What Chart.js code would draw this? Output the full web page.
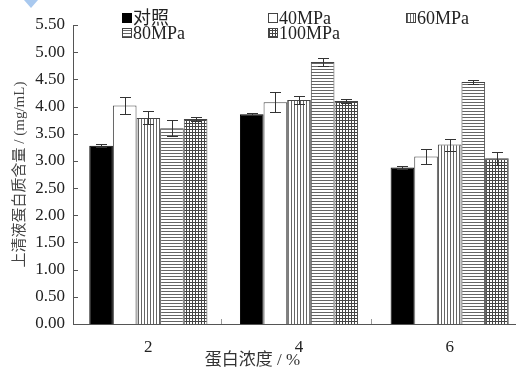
<!DOCTYPE html>
<html>
<head>
<meta charset="utf-8">
<script src="https://cdn.jsdelivr.net/npm/chart.js@4.4.1/dist/chart.umd.min.js"></script>
<style>
  html, body { margin: 0; padding: 0; background: #fff; overflow: hidden; }
  #wrap { position: relative; width: 516px; height: 369px; overflow: hidden; }
  canvas { position: absolute; left: 0; top: 0; }
  .corner { position: absolute; left: 24px; top: 0; width: 0; height: 0;
    border-left: 7px solid transparent; border-right: 7px solid transparent; border-top: 8px solid #a9c9ef; }
  .legend { position: absolute; font: 18px/16px "Liberation Serif", "Noto Sans CJK SC", serif; color: #222;
    display: flex; align-items: center; white-space: nowrap; height: 16px; }
  .sw { width: 10px; height: 10px; box-sizing: border-box; border: 1px solid #444; margin-right: 1px; }
  #xtitle { position: absolute; left: 152px; width: 201px; top: 350px; height: 20px; line-height: 20px;
    text-align: center; font-size: 17px; font-family: "Liberation Serif", "Noto Sans CJK SC", serif; color: #333; }
</style>
</head>
<body>
<div id="wrap">
  <canvas id="c" width="530" height="369"></canvas>
  <div class="corner"></div>
  <div id="legend"></div>
  <div id="xtitle">蛋白浓度 / %</div>
</div>
<script>
// ---- data ----
const categories = ['2', '4', '6'];
const seriesNames = ['对照', '40MPa', '60MPa', '80MPa', '100MPa'];
const ctrl = [3.28, 3.86, 2.88];
const ctrlErr = [0.03, 0.02, 0.02];
const mpa40 = [4.02, 4.08, 3.08];
const mpa40Err = [0.15, 0.18, 0.13];
const mpa60 = [3.79, 4.12, 3.30];
const mpa60Err = [0.12, 0.08, 0.11];
const mpa80 = [3.60, 4.82, 4.45];
const mpa80Err = [0.15, 0.08, 0.03];
const mpa100 = [3.77, 4.10, 3.05];
const mpa100Err = [0.03, 0.03, 0.12];
const yTicks = [0, 0.5, 1, 1.5, 2, 2.5, 3, 3.5, 4, 4.5, 5, 5.5];

const FONT = '"Liberation Serif", "Noto Sans CJK SC", serif';

// hatch fills like the print figure
function makePattern(kind) {
  const c = document.createElement('canvas');
  c.width = 3; c.height = 3;
  const g = c.getContext('2d');
  g.fillStyle = '#fff';
  g.fillRect(0, 0, 3, 3);
  g.fillStyle = kind === 'grid' ? '#444' : '#666';
  if (kind === 'v' || kind === 'grid') g.fillRect(0, 0, 1, 3);
  if (kind === 'h' || kind === 'grid') g.fillRect(0, 0, 3, 1);
  return g.createPattern(c, 'repeat');
}

const fills = ['#000', '#fff', makePattern('v'), makePattern('h'), makePattern('grid')];
const values = [ctrl, mpa40, mpa60, mpa80, mpa100];
const errors = [ctrlErr, mpa40Err, mpa60Err, mpa80Err, mpa100Err];

const errorBars = {
  id: 'errorBars',
  afterDatasetsDraw(chart) {
    const ctx = chart.ctx;
    const y = chart.scales.y, x = chart.scales.x;
    const area = chart.chartArea;
    ctx.save();
    ctx.strokeStyle = '#333';
    ctx.lineWidth = 1;
    chart.data.datasets.forEach((ds, i) => {
      chart.getDatasetMeta(i).data.forEach((bar, j) => {
        const v = ds.data[j], e = ds.errors[j];
        const top = Math.round(y.getPixelForValue(v + e)) + 0.5;
        const bot = Math.round(y.getPixelForValue(v - e)) + 0.5;
        const cx = Math.round(bar.x) + 0.5;
        ctx.beginPath();
        ctx.moveTo(cx, top); ctx.lineTo(cx, bot);
        ctx.moveTo(cx - 5.5, top); ctx.lineTo(cx + 5.5, top);
        ctx.moveTo(cx - 5.5, bot); ctx.lineTo(cx + 5.5, bot);
        ctx.stroke();
      });
    });
    // inward tick marks
    ctx.strokeStyle = '#555';
    yTicks.forEach(t => {
      const py = Math.round(y.getPixelForValue(t)) + 0.5;
      ctx.beginPath();
      ctx.moveTo(area.left, py); ctx.lineTo(area.left + 5, py);
      ctx.stroke();
    });
    ctx.strokeStyle = '#999';
    for (let k = 0; k < categories.length - 1; k++) {
      const px = Math.round(x.getPixelForValue(k + 0.5)) - 2.5;
      ctx.beginPath();
      ctx.moveTo(px, area.bottom); ctx.lineTo(px, area.bottom - 5);
      ctx.stroke();
    }
    ctx.restore();
  }
};

new Chart(document.getElementById('c'), {
  type: 'bar',
  data: {
    labels: categories,
    datasets: seriesNames.map((name, i) => ({
      label: name,
      data: values[i],
      errors: errors[i],
      backgroundColor: fills[i],
      borderColor: i === 0 ? '#000' : '#444',
      borderWidth: 1,
      categoryPercentage: 0.784,
      barPercentage: 1,
    }))
  },
  options: {
    responsive: false,
    animation: false,
    layout: { padding: { top: 25, right: 5, left: 0, bottom: 0 } },
    plugins: { legend: { display: false }, tooltip: { enabled: false } },
    scales: {
      x: {
        offset: true,
        grid: { display: false },
        border: { display: true, color: '#555' },
        ticks: { color: '#222', font: { family: FONT, size: 17 }, padding: 5 },
        afterFit: s => { s.height = 45; }
      },
      y: {
        min: 0, max: 5.5,
        grid: { display: false },
        border: { display: true, color: '#555' },
        ticks: { stepSize: 0.5, color: '#222', font: { family: FONT, size: 17 }, padding: 0,
          callback: v => Number(v).toFixed(2) },
        title: { display: true, text: '上清液蛋白质含量 / (mg/mL)', color: '#444', font: { family: FONT, size: 15 }, padding: { top: 11, bottom: 0 } },
        afterFit: s => { s.width = 73; }
      }
    }
  },
  plugins: [errorBars]
});

// legend in three columns, two rows
const legendPos = [[122, 18], [268, 18], [406, 18], [122, 33], [268, 33]];
const swatchCss = [
  'background:#000;border-color:#000',
  'background:#fff',
  'background:repeating-linear-gradient(90deg,#666 0 1px,#fff 1px 3px)',
  'background:repeating-linear-gradient(0deg,#666 0 1px,#fff 1px 3px)',
  'background:repeating-linear-gradient(90deg,#444 0 1px,transparent 1px 3px),repeating-linear-gradient(0deg,#444 0 1px,#fff 1px 3px)'
];
const leg = document.getElementById('legend');
seriesNames.forEach((name, i) => {
  const d = document.createElement('div');
  d.className = 'legend';
  d.style.left = legendPos[i][0] + 'px';
  d.style.top = (legendPos[i][1] - 8) + 'px';
  d.innerHTML = '<span class="sw" style="' + swatchCss[i] + '"></span>' + name;
  leg.appendChild(d);
});
</script>
</body>
</html>
